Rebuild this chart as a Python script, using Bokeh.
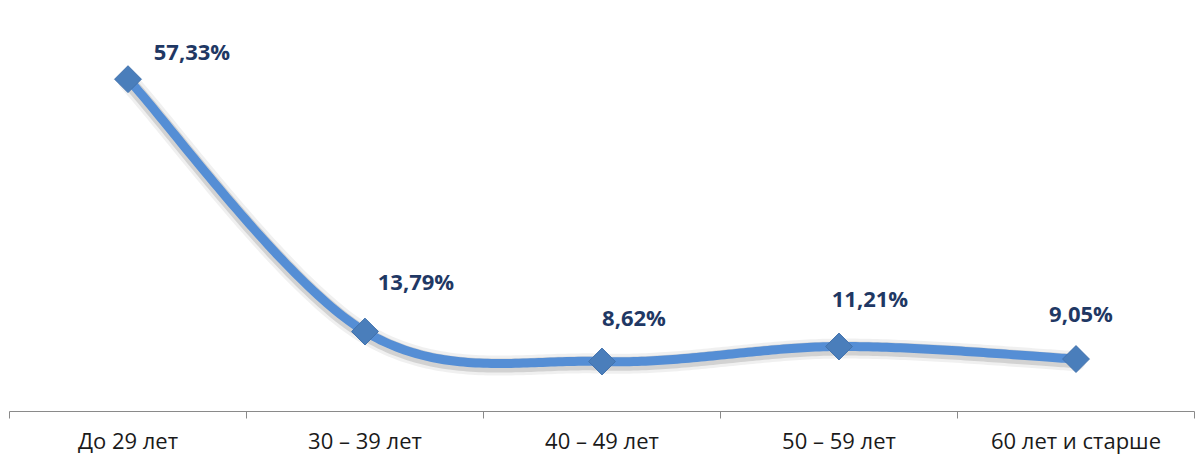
import numpy as np
from bokeh.plotting import figure
from bokeh.models import ColumnDataSource, LabelSet, FixedTicker, Range1d
from bokeh.core.properties import value
from bokeh.embed import file_html
from bokeh.resources import INLINE

# ---- data ----
categories = ["До 29 лет", "30 – 39 лет", "40 – 49 лет", "50 – 59 лет", "60 лет и старше"]
values = [57.33, 13.79, 8.62, 11.21, 9.05]
value_labels = ["57,33%", "13,79%", "8,62%", "11,21%", "9,05%"]

# label placement (screen pixels, style only)
label_dx = [64, 51, 32, 31, 5]
label_dy = [28, 51, 45, 49, 46]

xs = [i + 0.5 for i in range(len(categories))]


def smooth(x, y, n=60):
    """Catmull-Rom style smoothing (like Excel smoothed line) via cubic Bezier."""
    N = len(x)
    px, py = [], []
    for i in range(N - 1):
        x0, y0 = (x[i - 1], y[i - 1]) if i > 0 else (x[i], y[i])
        x1, y1 = x[i], y[i]
        x2, y2 = x[i + 1], y[i + 1]
        x3, y3 = (x[i + 2], y[i + 2]) if i + 2 < N else (x[i + 1], y[i + 1])
        c1x, c1y = x1 + (x2 - x0) / 6.0, y1 + (y2 - y0) / 6.0
        c2x, c2y = x2 - (x3 - x1) / 6.0, y2 - (y3 - y1) / 6.0
        t = np.linspace(0, 1, n, endpoint=(i == N - 2))
        a = (1 - t) ** 3
        b = 3 * (1 - t) ** 2 * t
        c = 3 * (1 - t) * t ** 2
        d = t ** 3
        px.extend(a * x1 + b * c1x + c * c2x + d * x2)
        py.extend(a * y1 + b * c1y + c * c2y + d * y2)
    return np.array(px), np.array(py)


sx, sy = smooth(xs, values)

p = figure(
    width=1195, height=457,
    x_range=Range1d(0, len(categories)),
    y_range=Range1d(0, 70.9),
    y_axis_location=None,
    toolbar_location=None,
    output_backend="svg",
    min_border_left=9, min_border_right=1, min_border_top=0, min_border_bottom=45,
)
p.outline_line_color = None
p.xgrid.grid_line_color = None
p.ygrid.grid_line_color = None
p.background_fill_color = "white"
p.border_fill_color = "white"

# axis: labels at category centres, separator ticks at category boundaries
ax = p.xaxis[0]
ax.ticker = FixedTicker(ticks=xs, minor_ticks=list(range(len(categories) + 1)))
ax.major_label_overrides = {x: c for x, c in zip(xs, categories)}
ax.axis_line_color = "#8A8A8A"
ax.axis_line_width = 1
ax.major_tick_out = 0
ax.major_tick_in = 0
ax.minor_tick_out = 7
ax.minor_tick_in = 0
ax.minor_tick_line_color = "#8A8A8A"
ax.minor_tick_line_width = 1
ax.major_label_text_font = "Open Sans"
ax.major_label_text_font_size = "22px"
ax.major_label_text_color = "#1A1A1A"
ax.major_label_standoff = 6

# soft shadow / glow under the line
p.line(sx, sy - 0.35, line_color="#000000", line_alpha=0.06, line_width=20, line_join="round", line_cap="round")
p.line(sx, sy - 0.35, line_color="#000000", line_alpha=0.12, line_width=14, line_join="round", line_cap="round")

# main smoothed line
p.line(sx, sy, line_color="#558ED5", line_width=9, line_join="round", line_cap="round")

# diamond markers
src = ColumnDataSource(dict(x=xs, y=values, lab=value_labels, dx=label_dx, dy=label_dy))
p.scatter("x", "y", source=src, marker="square", size=19, angle=np.pi / 4,
          fill_color="#4A7EBB", line_color="#4272AD", line_width=1)

# data labels
p.add_layout(LabelSet(x="x", y="y", text="lab", source=src, x_offset="dx", y_offset="dy",
                      text_align="center", text_baseline="middle",
                      text_font=value("Open Sans"), text_font_style="bold",
                      text_font_size="22px", text_color="#1F3864"))

open("out.html", "w").write(file_html(p, INLINE))
